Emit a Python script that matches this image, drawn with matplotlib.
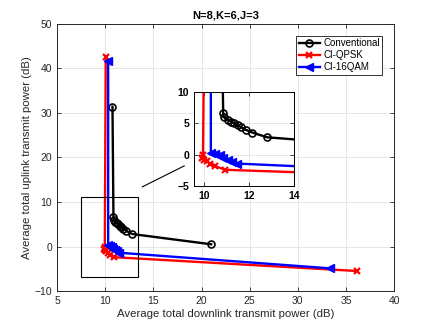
import matplotlib
matplotlib.use("Agg")
import matplotlib.pyplot as plt
from matplotlib.patches import Rectangle

# Data
conv_x = [10.75, 10.85, 10.88, 11.05, 11.2, 11.35, 11.5, 11.65, 11.85, 12.15, 12.8, 21.0]
conv_y = [31.4, 6.6, 6.0, 5.6, 5.3, 5.0, 4.7, 4.4, 4.0, 3.55, 2.8, 0.5]
qpsk_x = [10.05, 9.95, 9.9, 10.0, 10.12, 10.27, 10.47, 10.95, 36.1]
qpsk_y = [42.5, -0.1, -0.5, -0.8, -1.05, -1.4, -1.8, -2.4, -5.5]
qam_x = [10.3, 10.3, 10.5, 10.7, 10.85, 11.05, 11.25, 11.45, 33.3]
qam_y = [41.6, 0.3, 0.2, -0.1, -0.5, -0.8, -1.1, -1.4, -4.9]

labels = ["Conventional", "CI-QPSK", "CI-16QAM"]
title = "N=8,K=6,J=3"
xlabel = "Average total downlink transmit power (dB)"
ylabel = "Average total uplink transmit power (dB)"
xticks = [5, 10, 15, 20, 25, 30, 35, 40]
yticks = [-10, 0, 10, 20, 30, 40, 50]
in_xticks = [10, 12, 14]
in_yticks = [-5, 0, 5, 10]

axc = (0.15, 0.15, 0.15)
plt.rcParams['font.family'] = ['Liberation Sans', 'DejaVu Sans']

fig = plt.figure(figsize=(4.36, 3.27), dpi=100)
ax = fig.add_axes([0.131, 0.110, 0.773, 0.817])

def style(a, bold=False, fs=7.5):
    a.grid(True, color=(0.9, 0.9, 0.9), linewidth=0.7)
    a.set_axisbelow(True)
    a.tick_params(direction='in', top=True, right=True, length=3, width=0.6,
                  colors=axc, labelsize=fs, labelcolor=axc)
    for s in a.spines.values():
        s.set_color(axc)
        s.set_linewidth(0.7)
    if bold:
        for t in a.get_xticklabels() + a.get_yticklabels():
            t.set_fontweight('bold')
            t.set_color('black')

def draw(a, ms=5):
    a.plot(conv_x, conv_y, color='black', lw=1.7, marker='o', ms=ms,
           mfc='none', mew=1.2, label=labels[0])
    a.plot(qpsk_x, qpsk_y, color='red', lw=1.7, marker='x', ms=ms,
           mew=1.6, label=labels[1])
    a.plot(qam_x, qam_y, color='blue', lw=1.7, marker='<', ms=ms + 1,
           mfc='blue', mew=1.0, label=labels[2])

draw(ax)
ax.set_xlim(5, 40)
ax.set_ylim(-10, 50)
ax.set_xticks(xticks)
ax.set_yticks(yticks)
style(ax)
ax.set_xlabel(xlabel, fontsize=8.2, color=axc, labelpad=2)
ax.set_ylabel(ylabel, fontsize=8.2, color=axc, labelpad=2)
ax.set_title(title, fontsize=8, fontweight='bold', pad=4)

leg = ax.legend(loc='upper right', fontsize=7, frameon=True, fancybox=False,
                edgecolor='black', handlelength=2.2, borderpad=0.3,
                labelspacing=0.2, handletextpad=0.3, borderaxespad=1.2)
leg.get_frame().set_linewidth(0.7)

ax.add_patch(Rectangle((7.5, -6.8), 5.9, 18.0, fill=False, edgecolor='black',
                       lw=0.8, zorder=5))
ax.plot([13.85, 18.2], [13.4, 18.1], color='black', lw=0.8, zorder=5)

ins = fig.add_axes([0.445, 0.431, 0.229, 0.287])
draw(ins, ms=5)
ins.set_xlim(9.55, 14)
ins.set_ylim(-5, 10)
ins.set_xticks(in_xticks)
ins.set_yticks(in_yticks)
style(ins, bold=True, fs=7.5)
for s in ins.spines.values():
    s.set_color('black')

fig.savefig("out.png", dpi=100)
